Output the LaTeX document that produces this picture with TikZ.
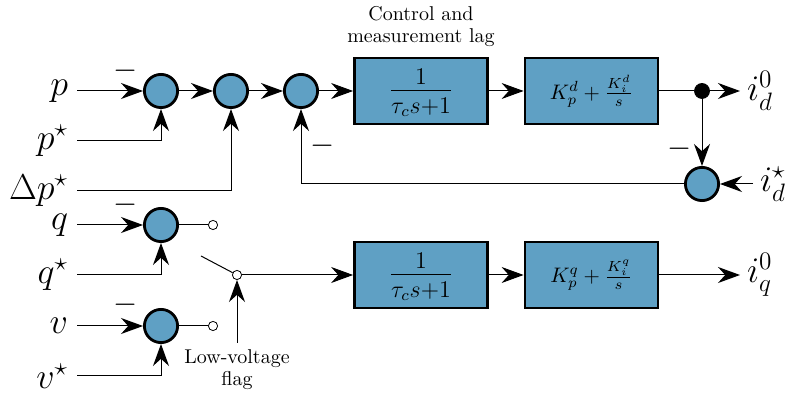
\RequirePackage{fix-cm}
\documentclass[tikz,border=0pt]{standalone}
\usepackage{amsmath}
\usetikzlibrary{arrows.meta,positioning}
\definecolor{sumblue}{RGB}{95,160,196}
\newcommand{\lagfrac}{\large$\dfrac{\smash{\raisebox{-1.8pt}{1}}\vphantom{1}}{\tau_c s{+}1}$}
\tikzset{
  sumnode/.style={draw,circle,line width=1.4pt,fill=sumblue,minimum size=16.6pt,inner sep=0pt},
  blockbox/.style={draw,line width=1.4pt,fill=sumblue,minimum width=66.5pt,minimum height=33pt,inner sep=0pt},
  signal/.style={font=\fontsize{18}{21}\selectfont},
  inlabel/.style={signal,anchor=east,inner xsep=4.3pt},
  outlabel/.style={signal,anchor=west},
  minuslabel/.style={font=\fontsize{15.5}{18}\selectfont,inner sep=0pt},
  terminal/.style={draw,circle,fill=white,minimum size=4.6pt,inner sep=0pt},
  conn/.style={line width=0.5pt},
  tip/.style={conn,-{Stealth[length=11pt,width=8pt,inset=3.6pt]}},
}
\begin{document}
\begin{tikzpicture}[x=0.5pt,y=-0.5pt]
\useasboundingbox (0,0) rectangle (787,394);
% input labels
\node[inlabel] (p) at (77,91) {$p$};
\node[inlabel] (pref) at (77,141) {$p^\star$};
\node[inlabel] (dpref) at (77,191) {$\Delta p^\star$};
\node[inlabel] (q) at (77,225) {$q$};
\node[inlabel] (qref) at (77,275) {$q^\star$};
\node[inlabel] (v) at (77,326) {$v$};
\node[inlabel] (vref) at (77,376) {$v^\star$};
% summing junctions
\node[sumnode] (sum1) at (161,91) {};
\node[sumnode] (sum2) at (231,91) {};
\node[sumnode] (sum3) at (301,91) {};
\node[sumnode] (sum4) at (702,184) {};
\node[sumnode] (sumq) at (161,225) {};
\node[sumnode] (sumv) at (161,326) {};
% blocks
\node[blockbox] (lagd) at (421,91) {\lagfrac};
\node[blockbox] (pid) at (591.5,91) {\fontsize{10.5}{12}\selectfont$K_p^d+\frac{K_i^d}{s}$};
\node[blockbox] (lagq) at (421,275) {\lagfrac};
\node[blockbox] (piq) at (591.5,275) {\fontsize{10.5}{12}\selectfont$K_p^q+\frac{K_i^q}{s}$};
\node[align=center,inner sep=0pt] (laglabel) at (421,27) {Control and\\[-1pt]measurement lag};
% outputs
\node[draw,circle,fill=black,minimum size=7.5pt,inner sep=0pt] (branch) at (702,91) {};
\node[outlabel] (idout) at (740,91) {$i_d^0$};
\node[outlabel] (idref) at (753,184) {$i_d^\star$};
\node[outlabel] (iqout) at (740,275) {$i_q^0$};
% switch
\node[terminal] (termq) at (213,225) {};
\node[terminal] (termv) at (213,326) {};
\node[terminal] (pole) at (237,275) {};
\coordinate (arm) at (201,256);
\node[align=center,anchor=north] (flag) at (237,343) {Low-voltage\\[-1pt]flag};
% minus signs
\node[minuslabel] (m1) at (126,71) {$-$};
\node[minuslabel] (m2) at (126,205) {$-$};
\node[minuslabel] (m3) at (126,305) {$-$};
\node[minuslabel] (m4) at (323,146) {$-$};
\node[minuslabel] (m5) at (680,149) {$-$};
% connectors
\draw[tip] (p) -- (sum1);
\draw[tip] (pref.east) -| (sum1);
\draw[tip] (sum1) -- (sum2);
\draw[tip] (dpref.east) -| (sum2);
\draw[tip] (sum2) -- (sum3);
\draw[tip] (sum3) -- (lagd);
\draw[tip] (lagd) -- (pid);
\draw[conn] (pid) -- (branch);
\draw[tip] (branch) -- (idout);
\draw[tip] (branch) -- (sum4);
\draw[tip] (idref) -- (sum4);
\draw[tip] (sum4) -| (sum3);
\draw[tip] (q) -- (sumq);
\draw[tip] (qref.east) -| (sumq);
\draw[tip] (v) -- (sumv);
\draw[tip] (vref.east) -| (sumv);
\draw[conn] (sumq) -- (termq);
\draw[conn] (sumv) -- (termv);
\draw[conn] (arm) -- (pole);
\draw[tip] (pole) -- (lagq);
\draw[tip] (lagq) -- (piq);
\draw[tip] (piq) -- (iqout);
\draw[tip] (flag) -- (pole);
\end{tikzpicture}
\end{document}
